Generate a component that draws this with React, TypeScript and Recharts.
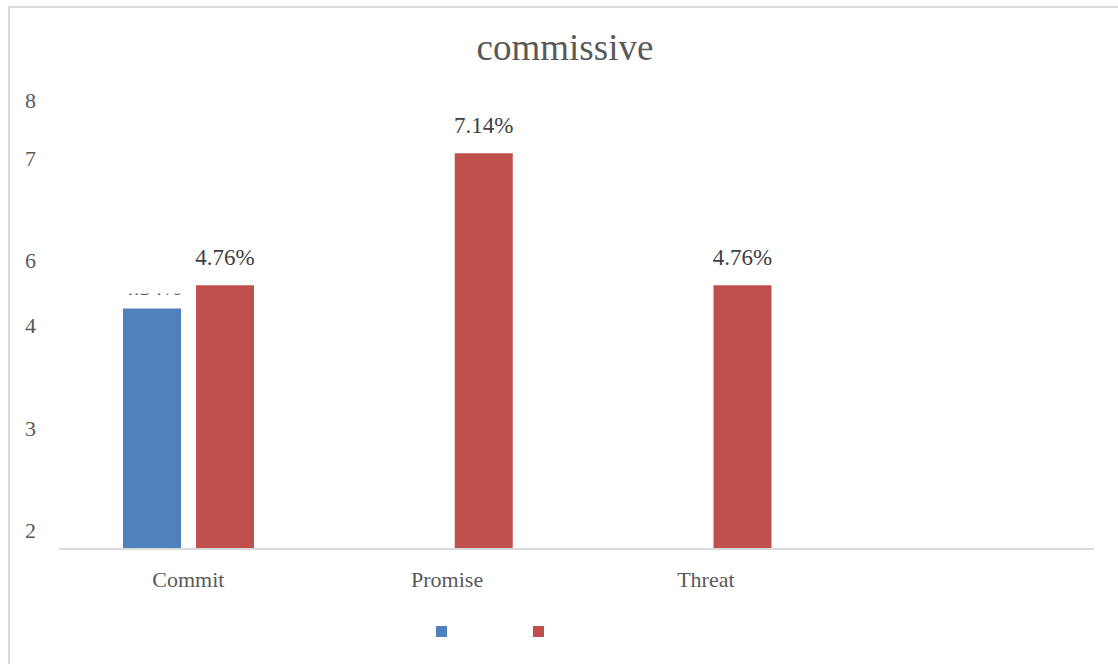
import { BarChart, Bar, XAxis, YAxis, Legend, LabelList } from 'recharts'

const CATEGORIES = ['Commit', 'Promise', 'Threat', '']
const BLUE_VALUES = [4.34, null, null, null]
const RED_VALUES = [4.76, 7.14, 4.76, null]
// the y axis labels sit at uneven heights in the original
const TICK_VALUES = [8.1, 7.05, 5.2, 4.03, 2.18, 0.34]
const TICK_LABELS = ['8', '7', '6', '4', '3', '2']

const BLUE = '#4f81bd'
const RED = '#c0504d'
const FONT = '"Liberation Serif", "DejaVu Serif", serif'

const data = CATEGORIES.map((name, i) => ({
  name,
  blue: BLUE_VALUES[i],
  red: RED_VALUES[i],
}))

const YTick = ({ y, payload }: any) => {
  const idx = TICK_VALUES.indexOf(payload.value)
  return (
    <text x={25} y={y} dy="0.35em" textAnchor="start" fill="#595959" fontSize={22} fontFamily={FONT}>
      {TICK_LABELS[idx]}
    </text>
  )
}

const RedLabel = ({ x, y, width, value }: any) => {
  if (value == null) return null
  return (
    <text x={x + width / 2} y={y - 20} textAnchor="middle" fill="#404040" fontSize={23} fontFamily={FONT}>
      {value.toFixed(2)}%
    </text>
  )
}

// the blue label is mostly hidden in the original, only its bottom edge shows
const BlueLabel = ({ x, y, width, value, index }: any) => {
  if (value == null) return null
  const id = `blue-clip-${index}`
  return (
    <g>
      <clipPath id={id}>
        <rect x={x - 20} y={y - 15} width={width + 40} height={3} />
      </clipPath>
      <text
        x={x + width / 2}
        y={y - 13}
        textAnchor="middle"
        fill="#595959"
        fontSize={23}
        fontFamily={FONT}
        clipPath={`url(#${id})`}
      >
        {value.toFixed(2)}%
      </text>
    </g>
  )
}

const LegendSquares = () => (
  <div style={{ display: 'flex', gap: 86 }}>
    <div style={{ width: 11, height: 11, background: BLUE }} />
    <div style={{ width: 11, height: 11, background: RED }} />
  </div>
)

export default function App() {
  return (
    <div
      style={{
        position: 'absolute',
        left: 0,
        top: 0,
        width: 1118,
        height: 664,
        background: '#fff',
        fontFamily: FONT,
      }}
    >
      {/* frame: only left and top edges are visible */}
      <div
        style={{
          position: 'absolute',
          left: 8,
          top: 6,
          width: 1110,
          height: 658,
          borderLeft: '2px solid #d9d9d9',
          borderTop: '2px solid #d9d9d9',
        }}
      />
      <div
        style={{
          position: 'absolute',
          left: 365,
          width: 400,
          top: 26,
          textAlign: 'center',
          fontSize: 37,
          color: '#595959',
          lineHeight: '44px',
        }}
      >
        commissive
      </div>
      <BarChart
        width={1118}
        height={664}
        data={data}
        margin={{ top: 100, right: 24, bottom: 85, left: 8 }}
        barSize={58}
        barGap={15}
        style={{ position: 'absolute', left: 0, top: 0 }}
      >
        <XAxis
          dataKey="name"
          height={30}
          axisLine={{ stroke: '#d9d9d9', strokeWidth: 2 }}
          tickLine={false}
          tickMargin={16}
          tick={{ fill: '#595959', fontSize: 22, fontFamily: FONT }}
        />
        <YAxis
          width={51}
          domain={[0, 8.1]}
          ticks={TICK_VALUES}
          axisLine={false}
          tickLine={false}
          tick={<YTick />}
          interval={0}
        />
        <Legend
          verticalAlign="middle"
          align="center"
          content={<LegendSquares />}
          wrapperStyle={{ position: 'absolute', left: 436, top: 626, width: 'auto' }}
        />
        <Bar dataKey="blue" fill={BLUE} isAnimationActive={false}>
          <LabelList dataKey="blue" content={<BlueLabel />} />
        </Bar>
        <Bar dataKey="red" fill={RED} isAnimationActive={false}>
          <LabelList dataKey="red" content={<RedLabel />} />
        </Bar>
      </BarChart>
    </div>
  )
}
